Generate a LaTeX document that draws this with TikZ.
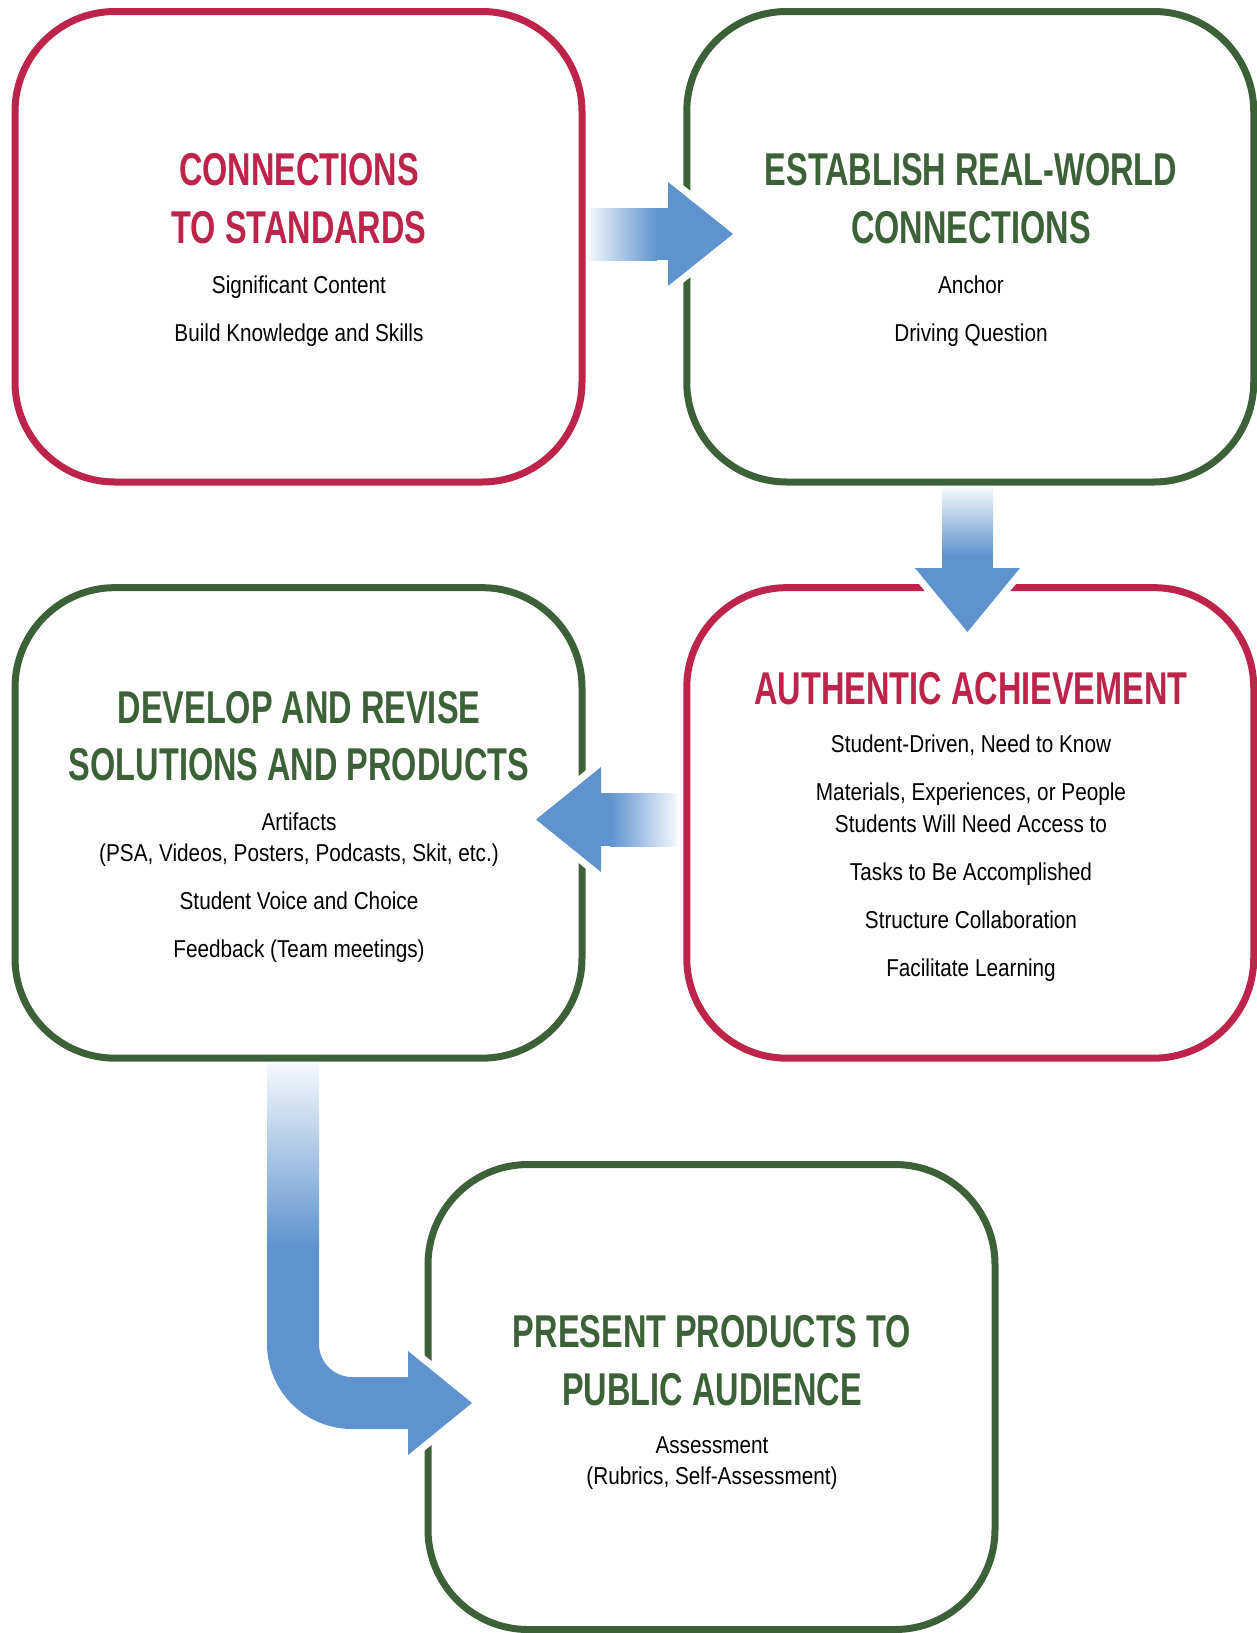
\documentclass[tikz,border=0pt]{standalone}
\usepackage{fontspec}
\setmainfont{Liberation Sans}
\newfontfamily\hdfont{Liberation Sans}[FakeStretch=0.706]
\newfontfamily\bdfont{Liberation Sans}[FakeStretch=0.85]
\definecolor{cred}{RGB}{190,35,73}
\definecolor{cgreen}{RGB}{60,97,56}
\definecolor{cblue}{RGB}{94,147,206}
\begin{document}
\begin{tikzpicture}[x=1pt,y=-1pt,
  box/.style={draw, line width=7pt, rounded corners=100pt, inner sep=0pt,
    minimum width=567pt, minimum height=470.5pt},
  hd/.style={anchor=base, inner sep=0pt, font=\hdfont\bfseries\fontsize{46}{46}\selectfont},
  bd/.style={anchor=base, inner sep=0pt, text=black, font=\bdfont\fontsize{24.4}{24.4}\selectfont},
  headout/.style={draw=white, fill=white, line width=14pt, line join=round},
  headfill/.style={fill=cblue},
]
\useasboundingbox (0,0) rectangle (1257,1633);
\fill[white] (0,0) rectangle (1257,1633);

% boxes
\node[box, draw=cred]   (b1) at (298.5,246.75) {};
\node[box, draw=cgreen] (b2) at (970.25,246.75) {};
\node[box, draw=cred]   (b3) at (970.25,822.9) {};
\node[box, draw=cgreen] (b4) at (298.5,822.9) {};
\node[box, draw=cgreen, minimum height=465pt] (b5) at (711.5,1397) {};

% arrow 1: b1 -> b2
\coordinate (a1s) at (587,234);
\coordinate (a1t) at (733,234);
\filldraw[headout] (668,182) -- (a1t) -- (668,286) -- cycle;
\shade[left color=cblue!6, right color=cblue] (a1s |- 0,208) rectangle (657,260);
\fill[cblue] (656,208) rectangle (669,260);
\fill[headfill] (668,182) -- (a1t) -- (668,286) -- cycle;

% arrow 2: b2 -> b3
\coordinate (a2s) at (967.5,487);
\coordinate (a2t) at (967.5,632);
\filldraw[headout] (915,568) -- (a2t) -- (1020,568) -- cycle;
\shade[top color=cblue!6, bottom color=cblue] (942,487) rectangle (993,556);
\fill[cblue] (942,555) rectangle (993,569);
\fill[headfill] (915,568) -- (a2t) -- (1020,568) -- cycle;

% arrow 3: b3 -> b4
\coordinate (a3s) at (677,819.5);
\coordinate (a3t) at (536,819.5);
\filldraw[headout] (601,767) -- (a3t) -- (601,872) -- cycle;
\shade[left color=cblue, right color=cblue!6] (610,793) rectangle (677,846);
\fill[cblue] (600,793) rectangle (611,846);
\fill[headfill] (601,767) -- (a3t) -- (601,872) -- cycle;

% arrow 4: b4 -> b5
\coordinate (a4s) at (293,1063);
\coordinate (a4t) at (472,1403);
\filldraw[headout] (408,1351) -- (a4t) -- (408,1455) -- cycle;
\shade[top color=cblue!6, bottom color=cblue] (267,1063) rectangle (319,1247);
\draw[cblue, line width=52pt, rounded corners=59pt] (293,1246) -- (293,1403) -- (409,1403);
\fill[headfill] (408,1351) -- (a4t) -- (408,1455) -- cycle;

% texts box 1
\node[hd, text=cred] (t1a) at (299,185) {CONNECTIONS};
\node[hd, text=cred] (t1b) at (299,243.5) {TO STANDARDS};
\node[bd] (t1c) at (299,293) {Significant Content};
\node[bd] (t1d) at (299,341) {Build Knowledge and Skills};

% texts box 2
\node[hd, text=cgreen] (t2a) at (971,185) {ESTABLISH REAL-WORLD};
\node[hd, text=cgreen] (t2b) at (971,243.5) {CONNECTIONS};
\node[bd] (t2c) at (971,293) {Anchor};
\node[bd] (t2d) at (971,341) {Driving Question};

% texts box 3
\node[hd, text=cred] (t3a) at (971,704) {AUTHENTIC ACHIEVEMENT};
\node[bd] (t3b) at (971,752.7) {Student-Driven, Need to Know};
\node[bd] (t3c) at (971,800.7) {Materials, Experiences, or People};
\node[bd] (t3d) at (971,832.7) {Students Will Need Access to};
\node[bd] (t3e) at (971,880.7) {Tasks to Be Accomplished};
\node[bd] (t3f) at (971,928.7) {Structure Collaboration};
\node[bd] (t3g) at (971,976) {Facilitate Learning};

% texts box 4
\node[hd, text=cgreen] (t4a) at (299,723.3) {DEVELOP AND REVISE};
\node[hd, text=cgreen] (t4b) at (299,780.7) {SOLUTIONS AND PRODUCTS};
\node[bd] (t4c) at (299,830) {Artifacts};
\node[bd] (t4d) at (299,861.7) {(PSA, Videos, Posters, Podcasts, Skit, etc.)};
\node[bd] (t4e) at (299,909.3) {Student Voice and Choice};
\node[bd] (t4f) at (299,957.3) {Feedback (Team meetings)};

% texts box 5
\node[hd, text=cgreen] (t5a) at (712,1347.3) {PRESENT PRODUCTS TO};
\node[hd, text=cgreen] (t5b) at (712,1405) {PUBLIC AUDIENCE};
\node[bd] (t5c) at (712,1453.3) {Assessment};
\node[bd] (t5d) at (712,1484.3) {(Rubrics, Self-Assessment)};
\end{tikzpicture}
\end{document}
